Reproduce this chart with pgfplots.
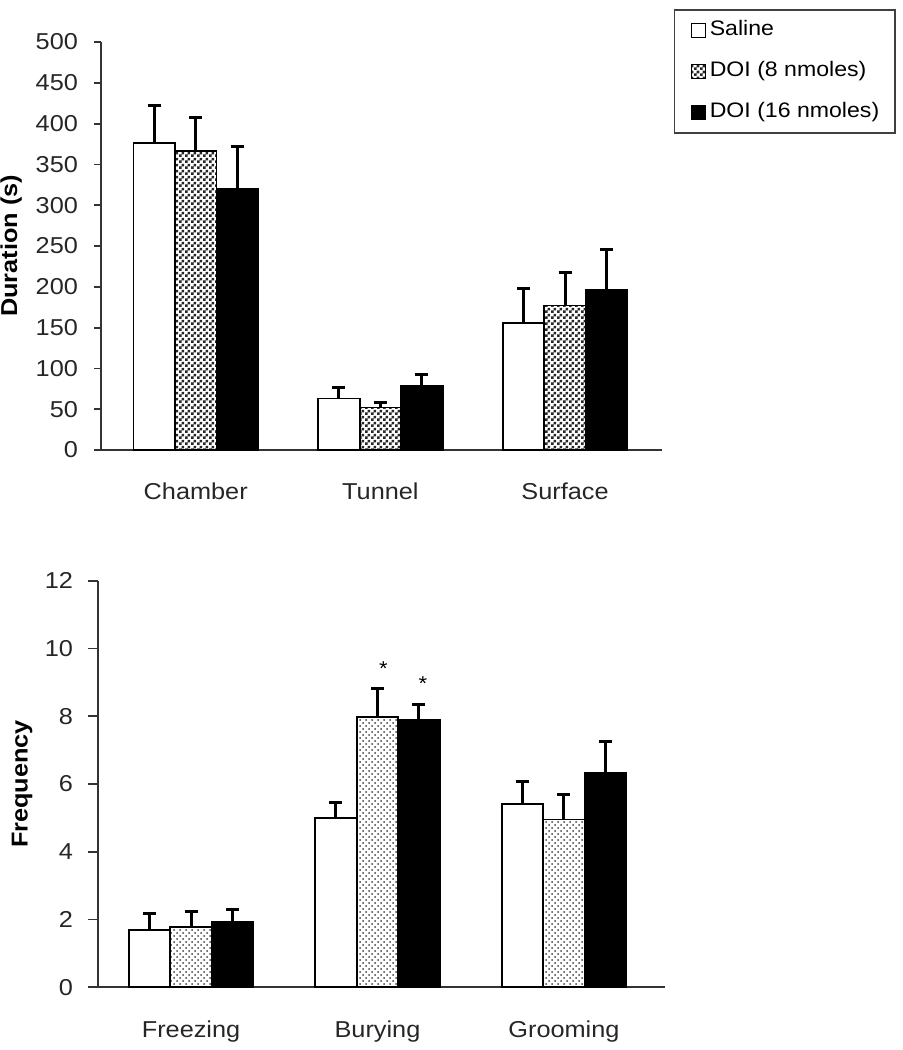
\documentclass[border=0pt]{standalone}
\usepackage{fontspec}
\setmainfont[FakeStretch=1.1]{Liberation Sans}
\usepackage{pgfplots}
\pgfplotsset{compat=1.18}
\usetikzlibrary{patterns}

\pgfdeclarepatternformonly{densechecker}{\pgfqpoint{0pt}{0pt}}{\pgfqpoint{2.8pt}{2.8pt}}{\pgfqpoint{2.8pt}{2.8pt}}{%
  \pgfpathrectangle{\pgfqpoint{0pt}{0pt}}{\pgfqpoint{1.4pt}{1.4pt}}%
  \pgfpathrectangle{\pgfqpoint{1.4pt}{1.4pt}}{\pgfqpoint{1.4pt}{1.4pt}}%
  \pgfusepath{fill}}

\pgfplotsset{
  mybars/.style={
    scale only axis,
    ybar=0pt,
    bar width=20.75pt,
    axis x line=bottom,
    axis y line=left,
    axis line style={-, line width=0.9pt, black!80},
    tick align=outside,
    xtick={0,1,2},
    xtick style={draw=none},
    ytick style={line width=0.9pt, black!80},
    /pgf/number format/assume math mode=true,
    tick label style={font=\fontsize{11.5}{13}\selectfont, text=black!85},
    yticklabel style={anchor=east},
    every axis plot/.append style={draw=black, line width=0.9pt},
    error bars/y dir=plus,
    error bars/y explicit,
    error bars/error bar style={line width=1.5pt, black},
    error bars/error mark options={rotate=90, mark size=3.25pt, line width=1.5pt, black},
    legend image code/.code={\draw[#1, draw=black, line width=0.6pt] (0pt,-3.5pt) rectangle (7pt,3.5pt);},
  }
}

\begin{document}
\begin{tikzpicture}
\useasboundingbox (0,0) rectangle (451pt,-525pt);

% ---------------- Top: Duration ----------------
\begin{axis}[
  mybars,
  at={(50.5pt,-225pt)}, anchor=south west,
  width=280.5pt, height=204pt,
  xmin=-0.513, xmax=2.525,
  ymin=0, ymax=500,
  ytick={0,50,...,500},
  major tick length=3.5pt,
  xticklabels={Chamber,Tunnel,Surface},
  xticklabel style={font=\fontsize{11.5}{13}\selectfont, yshift=-9.5pt},
  yticklabel style={xshift=-4.5pt},
  ylabel={Duration (s)},
  ylabel style={font=\fontsize{11.5}{13}\selectfont\bfseries, at={(axis description cs:-0.16,0.5)}, anchor=center, rotate=0},
  legend style={at={(1.021,1.081)}, anchor=north west, draw=black!75, line width=0.8pt,
    font=\fontsize{10.5}{12}\selectfont, inner xsep=8pt, inner ysep=5pt, row sep=10pt,
    nodes={inner sep=0pt, text height=8pt, text depth=2.5pt},
    /tikz/every odd column/.append style={column sep=2pt}},
  legend cell align=left,
]
\addplot[fill=white] coordinates {(0,376) +- (0,46) (1,63) +- (0,13) (2,156) +- (0,42)};
\addlegendentry{Saline}
\addplot[pattern=densechecker, pattern color=black!85] coordinates {(0,366) +- (0,42) (1,52) +- (0,6.5) (2,177) +- (0,40)};
\addlegendentry{DOI (8 nmoles)}
\addplot[fill=black] coordinates {(0,320) +- (0,52) (1,79) +- (0,13) (2,196) +- (0,50)};
\addlegendentry{DOI (16 nmoles)}
\end{axis}

% ---------------- Bottom: Frequency ----------------
\begin{axis}[
  mybars,
  at={(49pt,-493.65pt)}, anchor=south west,
  width=283.5pt, height=203.3pt,
  xmin=-0.499, xmax=2.542,
  ymin=0, ymax=12,
  ytick={0,2,...,12},
  major tick length=5pt,
  xticklabels={Freezing,Burying,Grooming},
  xticklabel style={font=\fontsize{11.5}{13}\selectfont, yshift=-8pt},
  yticklabel style={xshift=-4pt},
  ylabel={Frequency},
  ylabel style={font=\fontsize{11.5}{13}\selectfont\bfseries, at={(axis description cs:-0.134,0.5)}, anchor=center, rotate=0},
]
\addplot[fill=white] coordinates {(0,1.69) +- (0,0.49) (1,4.99) +- (0,0.46) (2,5.41) +- (0,0.66)};
\addplot[pattern=crosshatch dots, pattern color=black!75] coordinates {(0,1.77) +- (0,0.46) (1,7.98) +- (0,0.84) (2,4.95) +- (0,0.73)};
\addplot[fill=black] coordinates {(0,1.92) +- (0,0.39) (1,7.88) +- (0,0.48) (2,6.32) +- (0,0.93)};
\node[font=\fontsize{10}{10}\selectfont, inner sep=0pt] at (axis cs:1,9.4) [xshift=3pt] {*};
\node[font=\fontsize{10}{10}\selectfont, inner sep=0pt] at (axis cs:1,8.95) [xshift=22.75pt] {*};
\end{axis}
\end{tikzpicture}
\end{document}
